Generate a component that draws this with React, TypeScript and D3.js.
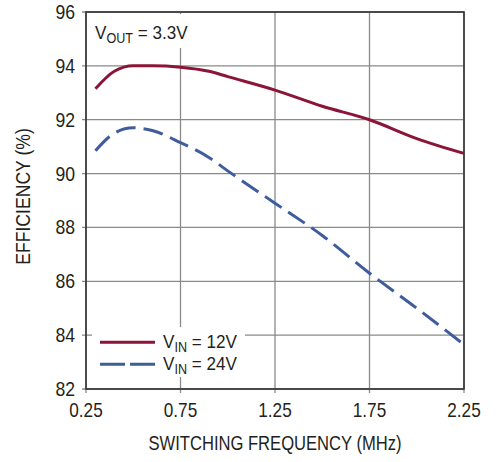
import * as d3 from "d3"
import type { ReactNode } from "react"

// switching frequency (MHz)
const freq = [0.3, 0.4, 0.5, 0.6, 0.75, 0.9, 1.0, 1.25, 1.5, 1.75, 2.0, 2.25]
// efficiency (%) per input voltage
const vin12 = [93.15, 93.8, 94.0, 94.0, 93.95, 93.8, 93.6, 93.1, 92.5, 92.0, 91.3, 90.75]
const vin24 = [90.85, 91.5, 91.7, 91.6, 91.15, 90.6, 90.1, 88.9, 87.7, 86.3, 85.0, 83.65]

const xTicks = [0.25, 0.75, 1.25, 1.75, 2.25]
const yTicks = [82, 84, 86, 88, 90, 92, 94, 96]

const W = 500
const H = 462
const margin = { top: 12, right: 36, bottom: 73, left: 86 }
const FONT = "'Liberation Sans', Arial, sans-serif"
const RED = "#8a1538"
const BLUE = "#3f5c9c"
const GRID = "#8a8a8a"
const INK = "#231f20"

// condensed-looking text: horizontal squeeze around the anchor point
function T({ x, y, sx = 0.86, rot = 0, anchor = "start", size = 20, children }: {
  x: number; y: number; sx?: number; rot?: number; anchor?: string; size?: number; children: ReactNode
}) {
  return (
    <text
      transform={`translate(${x},${y}) rotate(${rot}) scale(${sx},1)`}
      textAnchor={anchor}
      fontSize={size}
      fill={INK}
    >
      {children}
    </text>
  )
}

export default function App() {
  const innerW = W - margin.left - margin.right
  const innerH = H - margin.top - margin.bottom

  const x = d3.scaleLinear().domain([0.25, 2.25]).range([0, innerW])
  const y = d3.scaleLinear().domain([82, 96]).range([innerH, 0])

  const line = d3
    .line<number>()
    .x((_, i) => x(freq[i]))
    .y((d) => y(d))
    .curve(d3.curveMonotoneX)

  return (
    <svg
      width={W}
      height={H}
      style={{ position: "absolute", left: 0, top: 0, background: "#fff" }}
      fontFamily={FONT}
    >
      <g transform={`translate(${margin.left},${margin.top})`}>
        {/* grid */}
        {yTicks.map((t) => (
          <line key={"gy" + t} x1={-4} x2={innerW} y1={y(t)} y2={y(t)} stroke={GRID} strokeWidth={1.3} />
        ))}
        {xTicks.map((t) => (
          <line key={"gx" + t} x1={x(t)} x2={x(t)} y1={0} y2={innerH + 4} stroke={GRID} strokeWidth={1.3} />
        ))}

        {/* label boxes that mask the grid */}
        <rect x={2} y={2} width={118} height={34} fill="#fff" />
        <rect x={6} y={y(84) - 8} width={153} height={y(82) - y(84) - 4} fill="#fff" />

        {/* frame */}
        <rect x={0} y={0} width={innerW} height={innerH} fill="none" stroke="#333" strokeWidth={1.6} />

        {/* series */}
        <path d={line(vin24) ?? ""} fill="none" stroke={BLUE} strokeWidth={3} strokeDasharray="20 8" />
        <path d={line(vin12) ?? ""} fill="none" stroke={RED} strokeWidth={3} />

        {/* VOUT label */}
        <T x={9} y={27} size={19} sx={0.9}>
          V<tspan fontSize={14} dy={4}>OUT</tspan>
          <tspan dy={-4}> = 3.3V</tspan>
        </T>

        {/* legend */}
        <line x1={14} x2={69} y1={y(84) + 7} y2={y(84) + 7} stroke={RED} strokeWidth={3} />
        <line x1={14} x2={69} y1={y(84) + 29} y2={y(84) + 29} stroke={BLUE} strokeWidth={3} strokeDasharray="25 5" />
        <T x={77} y={y(84) + 13} size={19} sx={0.9}>
          V<tspan fontSize={14} dy={4}>IN</tspan>
          <tspan dy={-4}> = 12V</tspan>
        </T>
        <T x={77} y={y(84) + 35} size={19} sx={0.9}>
          V<tspan fontSize={14} dy={4}>IN</tspan>
          <tspan dy={-4}> = 24V</tspan>
        </T>

        {/* y tick labels */}
        {yTicks.map((t) => (
          <T key={"ly" + t} x={-11} y={y(t) + 7} anchor="end" sx={0.88}>
            {t}
          </T>
        ))}
        {/* x tick labels */}
        {xTicks.map((t) => (
          <T key={"lx" + t} x={x(t)} y={innerH + 28} anchor="middle" sx={0.86}>
            {t.toFixed(2)}
          </T>
        ))}

        {/* axis titles */}
        <T x={innerW / 2} y={innerH + 61} anchor="middle" sx={0.83}>
          SWITCHING FREQUENCY (MHz)
        </T>
        <T x={-margin.left + 30} y={innerH / 2 - 4} rot={-90} anchor="middle" sx={0.88}>
          EFFICIENCY (%)
        </T>
      </g>
    </svg>
  )
}
